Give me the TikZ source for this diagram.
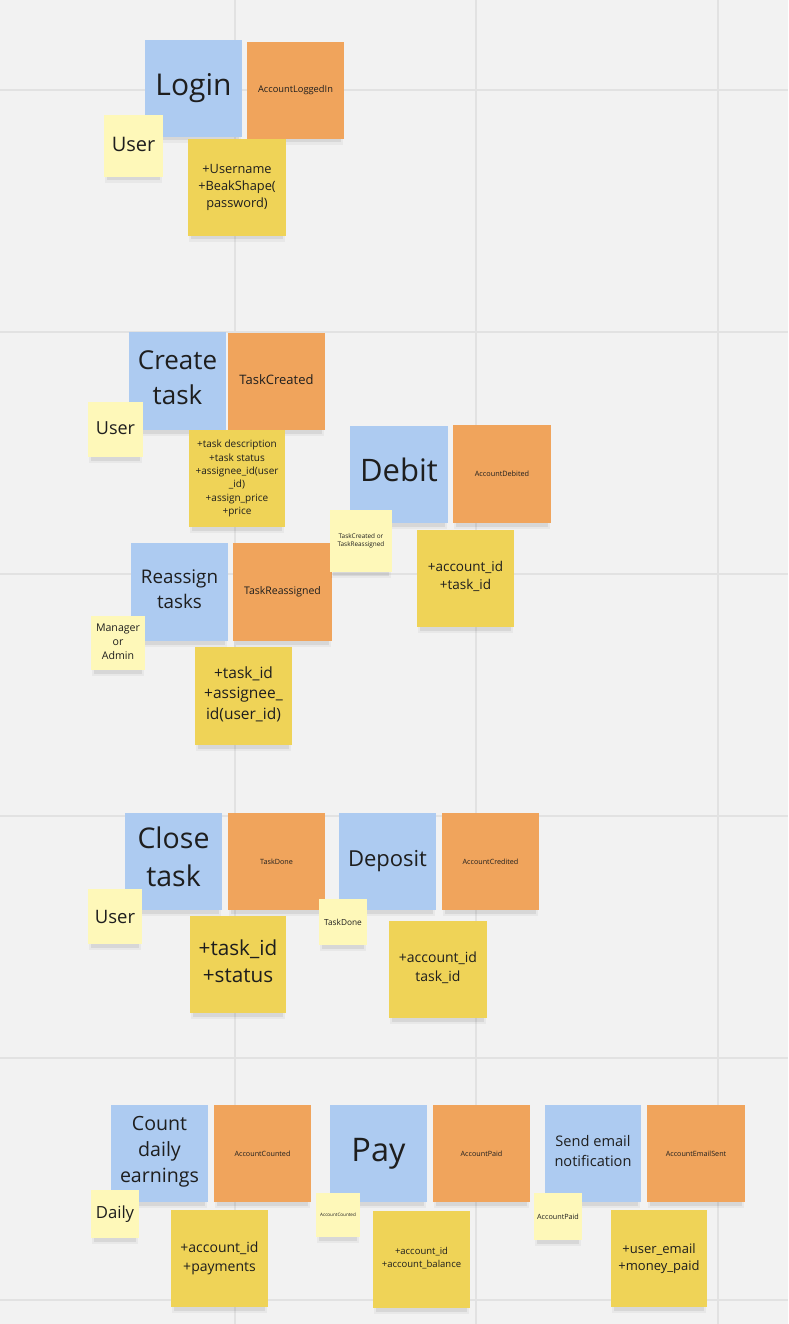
\documentclass[tikz,border=0pt]{standalone}
\usepackage{fontspec}
\setmainfont{Open Sans}
\definecolor{bgc}{HTML}{F2F2F2}
\definecolor{gridc}{HTML}{E2E2E2}
\definecolor{cmdc}{HTML}{ADCBF1}
\definecolor{evtc}{HTML}{F0A45C}
\definecolor{datc}{HTML}{EFD357}
\definecolor{actc}{HTML}{FEF8B9}
\definecolor{txtc}{HTML}{1E1E1E}
\newcommand\fs[1]{\fontsize{#1}{\fpeval{#1*1.33}}\selectfont}
\tikzset{
  stickybase/.style={inner sep=0pt},
  stickytext/.style={inner sep=0pt, align=center, text=txtc},
  cmd/.style={stickybase, fill=cmdc},
  evt/.style={stickybase, fill=evtc},
  dat/.style={stickybase, fill=datc},
  actor/.style={stickybase, fill=actc},
  gridline/.style={draw=gridc, line width=1.5pt}
}
% [raise] name style x1 y1 x2 y2 fontsize text
\newcommand\sticky[9][0]{%
  \pgfmathsetmacro\sw{#6-#4}\pgfmathsetmacro\sh{#7-#5}%
  \pgfmathsetmacro\cx{(#4+#6)/2}\pgfmathsetmacro\cy{(#5+#7)/2}%
  \fill[black,opacity=.04] (#4+1,#5+5) rectangle (#6-1,#7+6);
  \fill[black,opacity=.07] (#4+3,#5+4) rectangle (#6-3,#7+3.5);
  \node[#3,minimum width=\sw pt,minimum height=\sh pt] (#2) at (\cx,\cy) {};
  \node[stickytext,font=\fs{#8}] (#2-t) at ([yshift=#1pt]#2.center) {#9};}
\begin{document}
\begin{tikzpicture}[x=1pt,y=-1pt]
\fill[bgc] (0,0) rectangle (788,1324);
\useasboundingbox (0,0) rectangle (788,1324);
\foreach \gx [count=\i] in {235,476,718}{\coordinate (vt\i) at (\gx,0); \coordinate (vb\i) at (\gx,1324); \draw[gridline] (vt\i) -- (vb\i);}
\foreach \gy [count=\i] in {90,332,574,816,1058,1300}{\coordinate (hl\i) at (0,\gy); \coordinate (hr\i) at (788,\gy); \draw[gridline] (hl\i) -- (hr\i);}

% commands and events
\sticky{login}{cmd}{145}{40}{242}{137}{30}{Login}
\sticky{loggedin}{evt}{247}{42}{344}{139}{9.3}{AccountLoggedIn}
\sticky[3]{create}{cmd}{129}{332}{226}{430}{26}{Create\\task}
\sticky[2]{created}{evt}{228}{333}{325}{430}{13}{TaskCreated}
\sticky[4.5]{debit}{cmd}{350}{426}{448}{523}{31}{Debit}
\sticky{debited}{evt}{453}{425}{551}{523}{7.3}{AccountDebited}
\sticky[2.5]{reassign}{cmd}{131}{543}{228}{641}{18.8}{Reassign\\tasks}
\sticky{reassigned}{evt}{233}{543}{332}{641}{10.5}{TaskReassigned}
\sticky[4.5]{close}{cmd}{125}{813}{222}{910}{28.5}{Close\\task}
\sticky{done}{evt}{228}{813}{325}{910}{7.2}{TaskDone}
\sticky{deposit}{cmd}{339}{813}{436}{910}{22}{Deposit}
\sticky{credited}{evt}{442}{813}{539}{910}{7.2}{AccountCredited}
\sticky[1.5]{count}{cmd}{111}{1105}{208}{1202}{19.6}{Count\\daily\\earnings}
\sticky{counted}{evt}{214}{1105}{311}{1202}{7.2}{AccountCounted}
\sticky{pay}{cmd}{330}{1105}{427}{1202}{32.5}{Pay}
\sticky{paid}{evt}{433}{1105}{530}{1202}{7.2}{AccountPaid}
\sticky[2.5]{send}{cmd}{545}{1105}{641}{1202}{14.6}{Send email\\notification}
\sticky{emailsent}{evt}{647}{1105}{745}{1202}{7.2}{AccountEmailSent}

% data
\sticky{logindata}{dat}{188}{139}{286}{236}{12.8}{+Username\\+BeakShape(\\password)}
\sticky{createdata}{dat}{189}{430}{285}{527}{10}{+task description\\+task status\\+assignee\_id(user\\\_id)\\+assign\_price\\+price}
\sticky[2]{debitdata}{dat}{417}{530}{514}{627}{13.5}{+account\_id\\+task\_id}
\sticky[2]{reassigndata}{dat}{195}{647}{292}{745}{15.5}{+task\_id\\+assignee\_\\id(user\_id)}
\sticky[3.5]{closedata}{dat}{190}{916}{286}{1013}{20.7}{+task\_id\\+status}
\sticky[2]{depositdata}{dat}{389}{921}{487}{1018}{14}{+account\_id\\task\_id}
\sticky{countdata}{dat}{171}{1210}{268}{1307}{14}{+account\_id\\+payments}
\sticky[1.5]{paydata}{dat}{373}{1211}{470}{1308}{9.5}{+account\_id\\+account\_balance}
\sticky{senddata}{dat}{611}{1210}{707}{1307}{13}{+user\_email\\+money\_paid}

% actors / triggers
\sticky[2]{loginuser}{actor}{104}{115}{163}{177}{20}{User}
\sticky[1]{createuser}{actor}{88}{402}{143}{457}{18}{User}
\sticky{debittrig}{actor}{330}{510}{392}{572}{6.4}{TaskCreated or\\TaskReassigned}
\sticky[1]{reassignactor}{actor}{91}{616}{145}{670}{10.6}{Manager\\or\\Admin}
\sticky{closeuser}{actor}{88}{889}{142}{944}{18.5}{User}
\sticky{deposittrig}{actor}{319}{899}{367}{945}{8.3}{TaskDone}
\sticky{daily}{actor}{91}{1190}{139}{1238}{16.7}{Daily}
\sticky{paytrig}{actor}{316}{1193}{360}{1237}{4.6}{AccountCounted}
\sticky{sendtrig}{actor}{534}{1193}{582}{1240}{7.2}{AccountPaid}
\end{tikzpicture}
\end{document}
